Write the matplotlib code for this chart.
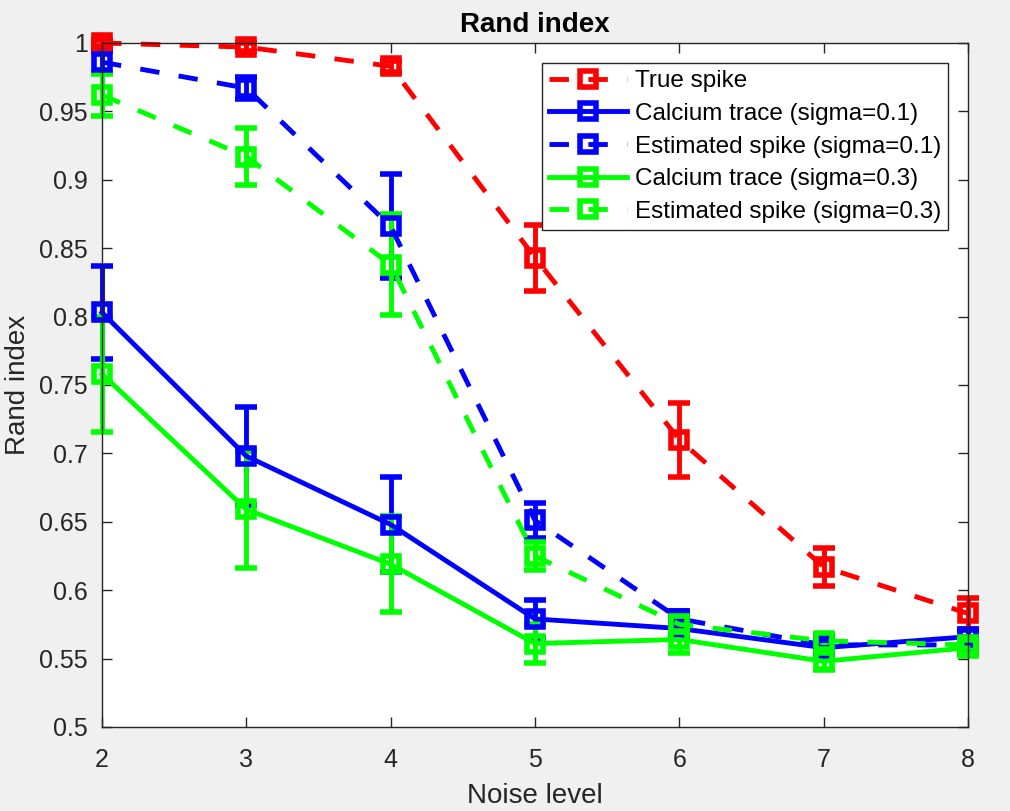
import numpy as np
import matplotlib
matplotlib.use("Agg")
import matplotlib.pyplot as plt

plt.rcParams['font.family'] = ['Liberation Sans', 'DejaVu Sans']

noise = [2, 3, 4, 5, 6, 7, 8]

true_spike = [1.000, 0.997, 0.983, 0.843, 0.710, 0.617, 0.583]
true_spike_err = [0.002, 0.003, 0.004, 0.024, 0.027, 0.014, 0.011]

calcium_01 = [0.803, 0.698, 0.648, 0.579, 0.572, 0.558, 0.566]
calcium_01_err = [0.034, 0.036, 0.035, 0.014, 0.008, 0.005, 0.005]

est_01 = [0.986, 0.967, 0.866, 0.651, 0.579, 0.560, 0.560]
est_01_err = [0.008, 0.008, 0.038, 0.013, 0.006, 0.004, 0.004]

calcium_03 = [0.758, 0.659, 0.619, 0.561, 0.564, 0.548, 0.558]
calcium_03_err = [0.042, 0.043, 0.035, 0.014, 0.010, 0.006, 0.005]

est_03 = [0.962, 0.917, 0.838, 0.625, 0.575, 0.563, 0.560]
est_03_err = [0.015, 0.021, 0.037, 0.010, 0.006, 0.004, 0.004]

series = [
    ("True spike", true_spike, true_spike_err, (1, 0, 0), '--'),
    ("Calcium trace (sigma=0.1)", calcium_01, calcium_01_err, (0, 0, 1), '-'),
    ("Estimated spike (sigma=0.1)", est_01, est_01_err, (0, 0, 1), '--'),
    ("Calcium trace (sigma=0.3)", calcium_03, calcium_03_err, (0, 1, 0), '-'),
    ("Estimated spike (sigma=0.3)", est_03, est_03_err, (0, 1, 0), '--'),
]

fig = plt.figure(figsize=(10.1, 8.11), dpi=100, facecolor='#f0f0f0')
ax = fig.add_axes([102 / 1010, 1 - 727 / 811, 866 / 1010, 684 / 811])
ax.set_facecolor('white')

handles = []
labels = []
for name, vals, err, col, ls in series:
    c = ax.errorbar(noise, vals, yerr=err, color=col, lw=3.5, elinewidth=3.5,
                    capsize=8, capthick=3.5, marker='s', ms=11, mfc='none',
                    mew=4)
    c[0].set_clip_on(False)
    for part in c[1] + c[2]:
        part.set_clip_on(False)
    if ls == '--':
        c[0].set_dashes((4, 4))
    handles.append(c[0])
    labels.append(name)

ax.set_xlim(2, 8)
ax.set_ylim(0.5, 1)
ax.set_xticks(noise)
yt = np.arange(0.5, 1.001, 0.05)
ax.set_yticks(yt)
ax.set_yticklabels(['%g' % round(v, 2) for v in yt])

for s in ax.spines.values():
    s.set_color('#262626')
    s.set_linewidth(1)
ax.tick_params(direction='in', top=True, right=True, length=7, width=1,
               colors='#262626', labelsize=18, pad=10)
ax.tick_params(axis='x', pad=15)

ax.set_xlabel("Noise level", fontsize=20, color='#262626', labelpad=8)
ax.set_ylabel("Rand index", fontsize=20, color='#262626', labelpad=6)
ax.set_title("Rand index", fontsize=20, fontweight='bold', pad=8)

leg = ax.legend(handles, labels, loc='upper right', bbox_to_anchor=(0.977, 0.971),
                borderaxespad=0, fontsize=17.5, fancybox=False, framealpha=1,
                edgecolor='#262626', handlelength=3.2, handletextpad=0.3,
                labelspacing=0.44, borderpad=0.3)
leg.get_frame().set_linewidth(1)

fig.savefig("out.png", dpi=100, facecolor=fig.get_facecolor())
